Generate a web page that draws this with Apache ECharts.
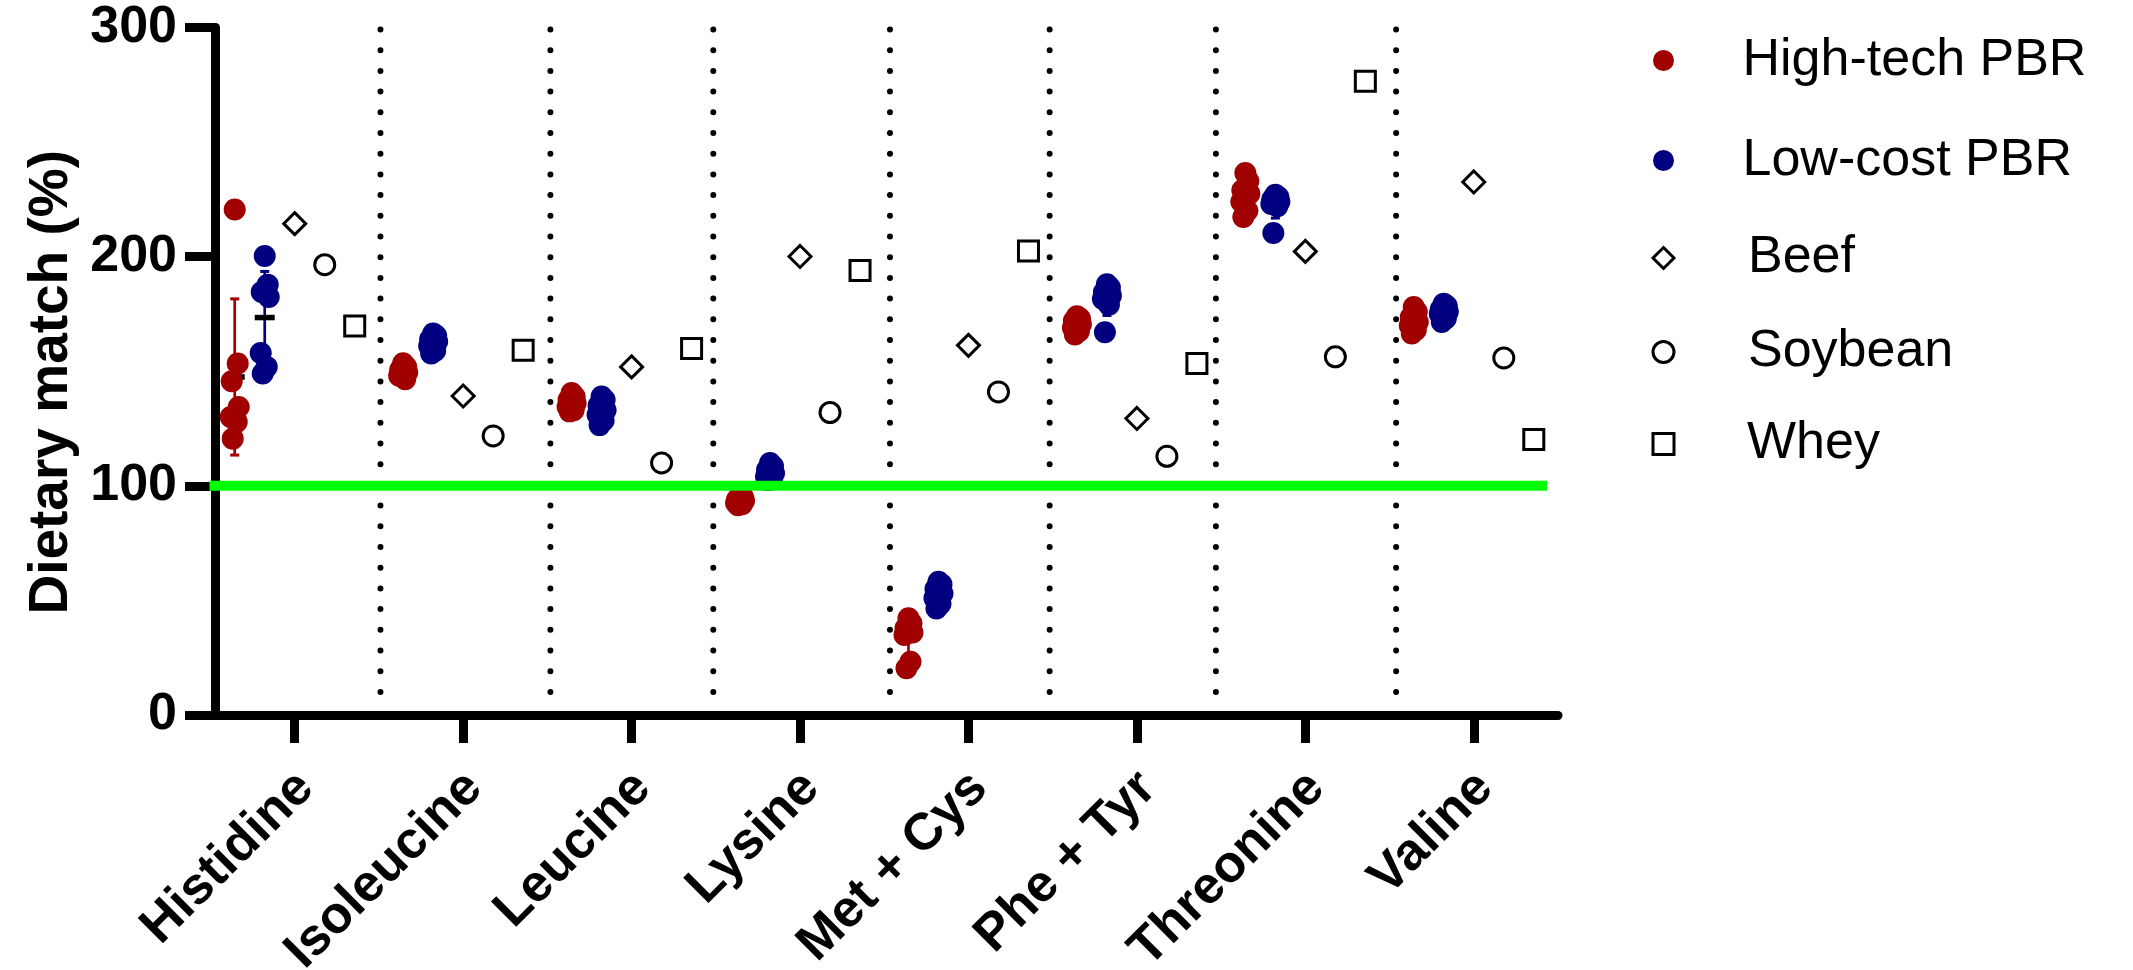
<!DOCTYPE html>
<html>
<head>
<meta charset="utf-8">
<script src="https://cdn.jsdelivr.net/npm/echarts@6/dist/echarts.min.js"></script>
<style>
html,body{margin:0;padding:0;background:#ffffff;}
#chart{width:2133px;height:970px;}
</style>
</head>
<body>
<div id="chart"></div>
<script>
// ---------------- data ----------------
const categories = ['Histidine', 'Isoleucine', 'Leucine', 'Lysine', 'Met + Cys', 'Phe + Tyr', 'Threonine', 'Valine'];
const yTicks = [0, 100, 200, 300];
const referenceLevel = 100;

// replicate measurements (one inner list per amino acid)
const highTechPBR = [
  [220.6, 153.4, 145.6, 134.4, 130.0, 127.9, 120.6],
  [153.5, 152.0, 150.5, 149.5, 148.0, 146.5, 151.0],
  [140.5, 139.0, 137.5, 136.0, 134.5, 133.0, 132.5],
  [95.5, 95.0, 94.0, 93.5, 92.5, 92.0, 91.5],
  [42.2, 40.0, 37.8, 36.0, 34.9, 23.2, 20.4],
  [174.0, 173.0, 172.0, 170.5, 169.0, 167.5, 166.0],
  [236.5, 233.0, 229.0, 227.5, 224.0, 220.0, 217.3],
  [178.0, 176.0, 173.5, 171.5, 170.0, 168.0, 166.5]
];
const lowCostPBR = [
  [200.3, 187.8, 184.6, 182.4, 158.0, 151.9, 149.0],
  [166.5, 165.5, 164.0, 163.0, 161.0, 159.0, 157.8],
  [139.0, 137.5, 135.0, 133.0, 131.0, 128.5, 126.5],
  [110.0, 108.5, 107.0, 105.5, 104.0, 103.0, 102.5],
  [58.1, 57.0, 55.0, 53.0, 51.0, 48.5, 46.5],
  [188.0, 186.5, 184.5, 183.0, 181.5, 179.0, 167.0],
  [227.0, 226.0, 225.0, 224.0, 223.0, 222.0, 210.3],
  [179.5, 178.5, 177.0, 176.0, 175.0, 173.0, 171.5]
];
const beef    = [214.4, 139.2, 151.9, 200.1, 161.3, 129.4, 202.3, 232.6];
const soybean = [196.5, 121.8, 110.0, 132.0, 141.0, 112.9, 156.3, 155.8];
const whey    = [169.8, 159.2, 159.9, 194.0, 202.5, 153.4, 276.5, 120.2];

// separator positions between categories (in category units)
const separatorPos = [0.509, 1.518, 2.485, 3.534, 4.482, 5.469, 6.539];

// ---------------- styles ----------------
const FONT = 'Liberation Sans, Arial, sans-serif';
const RED = '#a00000';
const BLUE = '#000080';
const GREEN = '#00ff00';
const DX = { hi: -60, lo: -30, beef: 0, soy: 30, whey: 60 };   // px offsets inside a category
const JITTER = [0, 3, -3, 4, -4, 2, -2];                        // px jitter of replicates

function mean(a) { return a.reduce((s, v) => s + v, 0) / a.length; }
function sd(a) { const m = mean(a); return Math.sqrt(a.reduce((s, v) => s + (v - m) * (v - m), 0) / (a.length - 1)); }

function replicateData(groups, dx) {
  const out = [];
  groups.forEach((arr, i) => arr.forEach((v, j) => {
    out.push({ value: [i, v], symbolOffset: [dx + JITTER[j % JITTER.length], 0] });
  }));
  return out;
}
function statData(groups) {
  return groups.map((arr, i) => [i, mean(arr), sd(arr)]);
}
function errorBarSeries(groups, dx, color) {
  return {
    type: 'custom',
    silent: true,
    z: 2,
    data: statData(groups),
    renderItem: function (params, api) {
      const i = api.value(0), m = api.value(1), s = api.value(2);
      const c = api.coord([i, m]);
      const yt = api.coord([i, m + s])[1];
      const yb = api.coord([i, m - s])[1];
      const x = c[0] + dx;
      return {
        type: 'group',
        children: [
          { type: 'line', shape: { x1: x, y1: yt, x2: x, y2: yb }, style: { stroke: color, lineWidth: 2.7 } },
          { type: 'line', shape: { x1: x - 4.5, y1: yt, x2: x + 4.5, y2: yt }, style: { stroke: color, lineWidth: 3 } },
          { type: 'line', shape: { x1: x - 4.5, y1: yb, x2: x + 4.5, y2: yb }, style: { stroke: color, lineWidth: 3 } },
          { type: 'line', shape: { x1: x - 10, y1: c[1], x2: x + 10, y2: c[1] }, style: { stroke: '#000', lineWidth: 5.5 } }
        ]
      };
    }
  };
}
function refSeries(values, dx, symbol, size, name) {
  return {
    name: name,
    type: 'scatter',
    z: 3,
    symbol: symbol,
    symbolSize: size,
    symbolOffset: [dx, 0],
    itemStyle: { color: '#ffffff', borderColor: '#000000', borderWidth: 3, opacity: 1 },
    data: values.map((v, i) => [i, v])
  };
}
const openIcon = { borderWidth: 3, borderColor: '#000', color: '#fff' };

const chart = echarts.init(document.getElementById('chart'), null, { renderer: 'canvas' });

const option = {
  backgroundColor: '#ffffff',
  animation: false,
  textStyle: { fontFamily: FONT },
  grid: { left: 210.5, right: 575, top: 27.5, bottom: 255, containLabel: false, outerBoundsMode: 'none' },
  legend: {
    orient: 'vertical',
    left: 1651.5,
    top: 30,
    padding: 0,
    itemWidth: 21,
    itemHeight: 21,
    itemGap: 40,
    symbolKeepAspect: true,
    selectedMode: false,
    textStyle: { fontFamily: FONT, fontSize: 52, color: '#000', lineHeight: 52 },
    data: [
      { name: 'High-tech PBR', textStyle: { lineHeight: 61, padding: [0, 0, 0, 63.5] } },
      { name: 'Low-cost PBR', textStyle: { lineHeight: 59, padding: [0, 0, 0, 63.5] } },
      { name: 'Beef', itemStyle: openIcon, textStyle: { lineHeight: 56, padding: [0, 0, 0, 69] } },
      { name: 'Soybean', itemStyle: openIcon, textStyle: { lineHeight: 47, padding: [0, 0, 0, 69] } },
      { name: 'Whey', itemStyle: openIcon, textStyle: { lineHeight: 48, padding: [0, 0, 0, 68] } }
    ]
  },
  xAxis: {
    type: 'category',
    data: categories,
    boundaryGap: true,
    axisLine: { show: true, lineStyle: { color: '#000', width: 9 } },
    axisTick: { show: true, alignWithLabel: true, length: 28, lineStyle: { color: '#000', width: 9 } },
    axisLabel: {
      rotate: 45, margin: 43, interval: 0, verticalAlign: 'top', lineHeight: 47,
      padding: [0, 8, 0, 0],
      fontFamily: FONT, fontWeight: 'bold', fontSize: 52, color: '#000'
    },
    splitLine: { show: false }
  },
  yAxis: {
    type: 'value',
    min: 0, max: 300, interval: 100,
    offset: -4.5,
    name: 'Dietary match (%)',
    nameLocation: 'middle',
    nameGap: 135,
    nameTextStyle: { fontFamily: FONT, fontWeight: 'bold', fontSize: 55, color: '#000', padding: [0, 22, 0, 0] },
    axisLine: { show: true, lineStyle: { color: '#000', width: 9 } },
    axisTick: { show: true, length: 30, lineStyle: { color: '#000', width: 9 } },
    axisLabel: {
      margin: 38, fontFamily: FONT, fontWeight: 'bold', fontSize: 52, color: '#000',
      formatter: function (v) { return yTicks.indexOf(v) >= 0 ? String(v) : ''; }
    },
    splitLine: { show: false }
  },
  series: [
    {
      type: 'custom',
      silent: true,
      z: 1,
      data: separatorPos.map((p, i) => [i, 0]),
      renderItem: function (params, api) {
        const p = separatorPos[params.dataIndex];
        const base = api.coord([0, 0]);
        const bw = api.size([1, 0])[0];
        const x = base[0] + p * bw;
        const yTop = api.coord([0, 300])[1];
        return {
          type: 'line',
          shape: { x1: x, y1: yTop + 2, x2: x, y2: base[1] - 4 },
          style: { stroke: '#000', lineWidth: 6, lineDash: [0, 20.7], lineCap: 'round' }
        };
      }
    },
    errorBarSeries(highTechPBR, DX.hi, RED),
    errorBarSeries(lowCostPBR, DX.lo, BLUE),
    {
      name: 'High-tech PBR',
      type: 'scatter',
      z: 3,
      symbol: 'circle',
      symbolSize: 22,
      itemStyle: { color: RED, opacity: 1 },
      data: replicateData(highTechPBR, DX.hi)
    },
    {
      name: 'Low-cost PBR',
      type: 'scatter',
      z: 3,
      symbol: 'circle',
      symbolSize: 22,
      itemStyle: { color: BLUE, opacity: 1 },
      data: replicateData(lowCostPBR, DX.lo)
    },
    refSeries(beef, DX.beef, 'diamond', 22, 'Beef'),
    refSeries(soybean, DX.soy, 'circle', 20, 'Soybean'),
    refSeries(whey, DX.whey, 'rect', 20, 'Whey'),
    {
      type: 'custom',
      silent: true,
      z: 5,
      data: [[0, referenceLevel]],
      renderItem: function (params, api) {
        const cs = params.coordSys;
        const y = api.coord([0, api.value(1)])[1];
        return {
          type: 'line',
          shape: { x1: cs.x - 1, y1: y, x2: cs.x + cs.width - 11, y2: y },
          style: { stroke: GREEN, lineWidth: 10 }
        };
      }
    }
  ]
};
chart.setOption(option);
</script>
</body>
</html>
